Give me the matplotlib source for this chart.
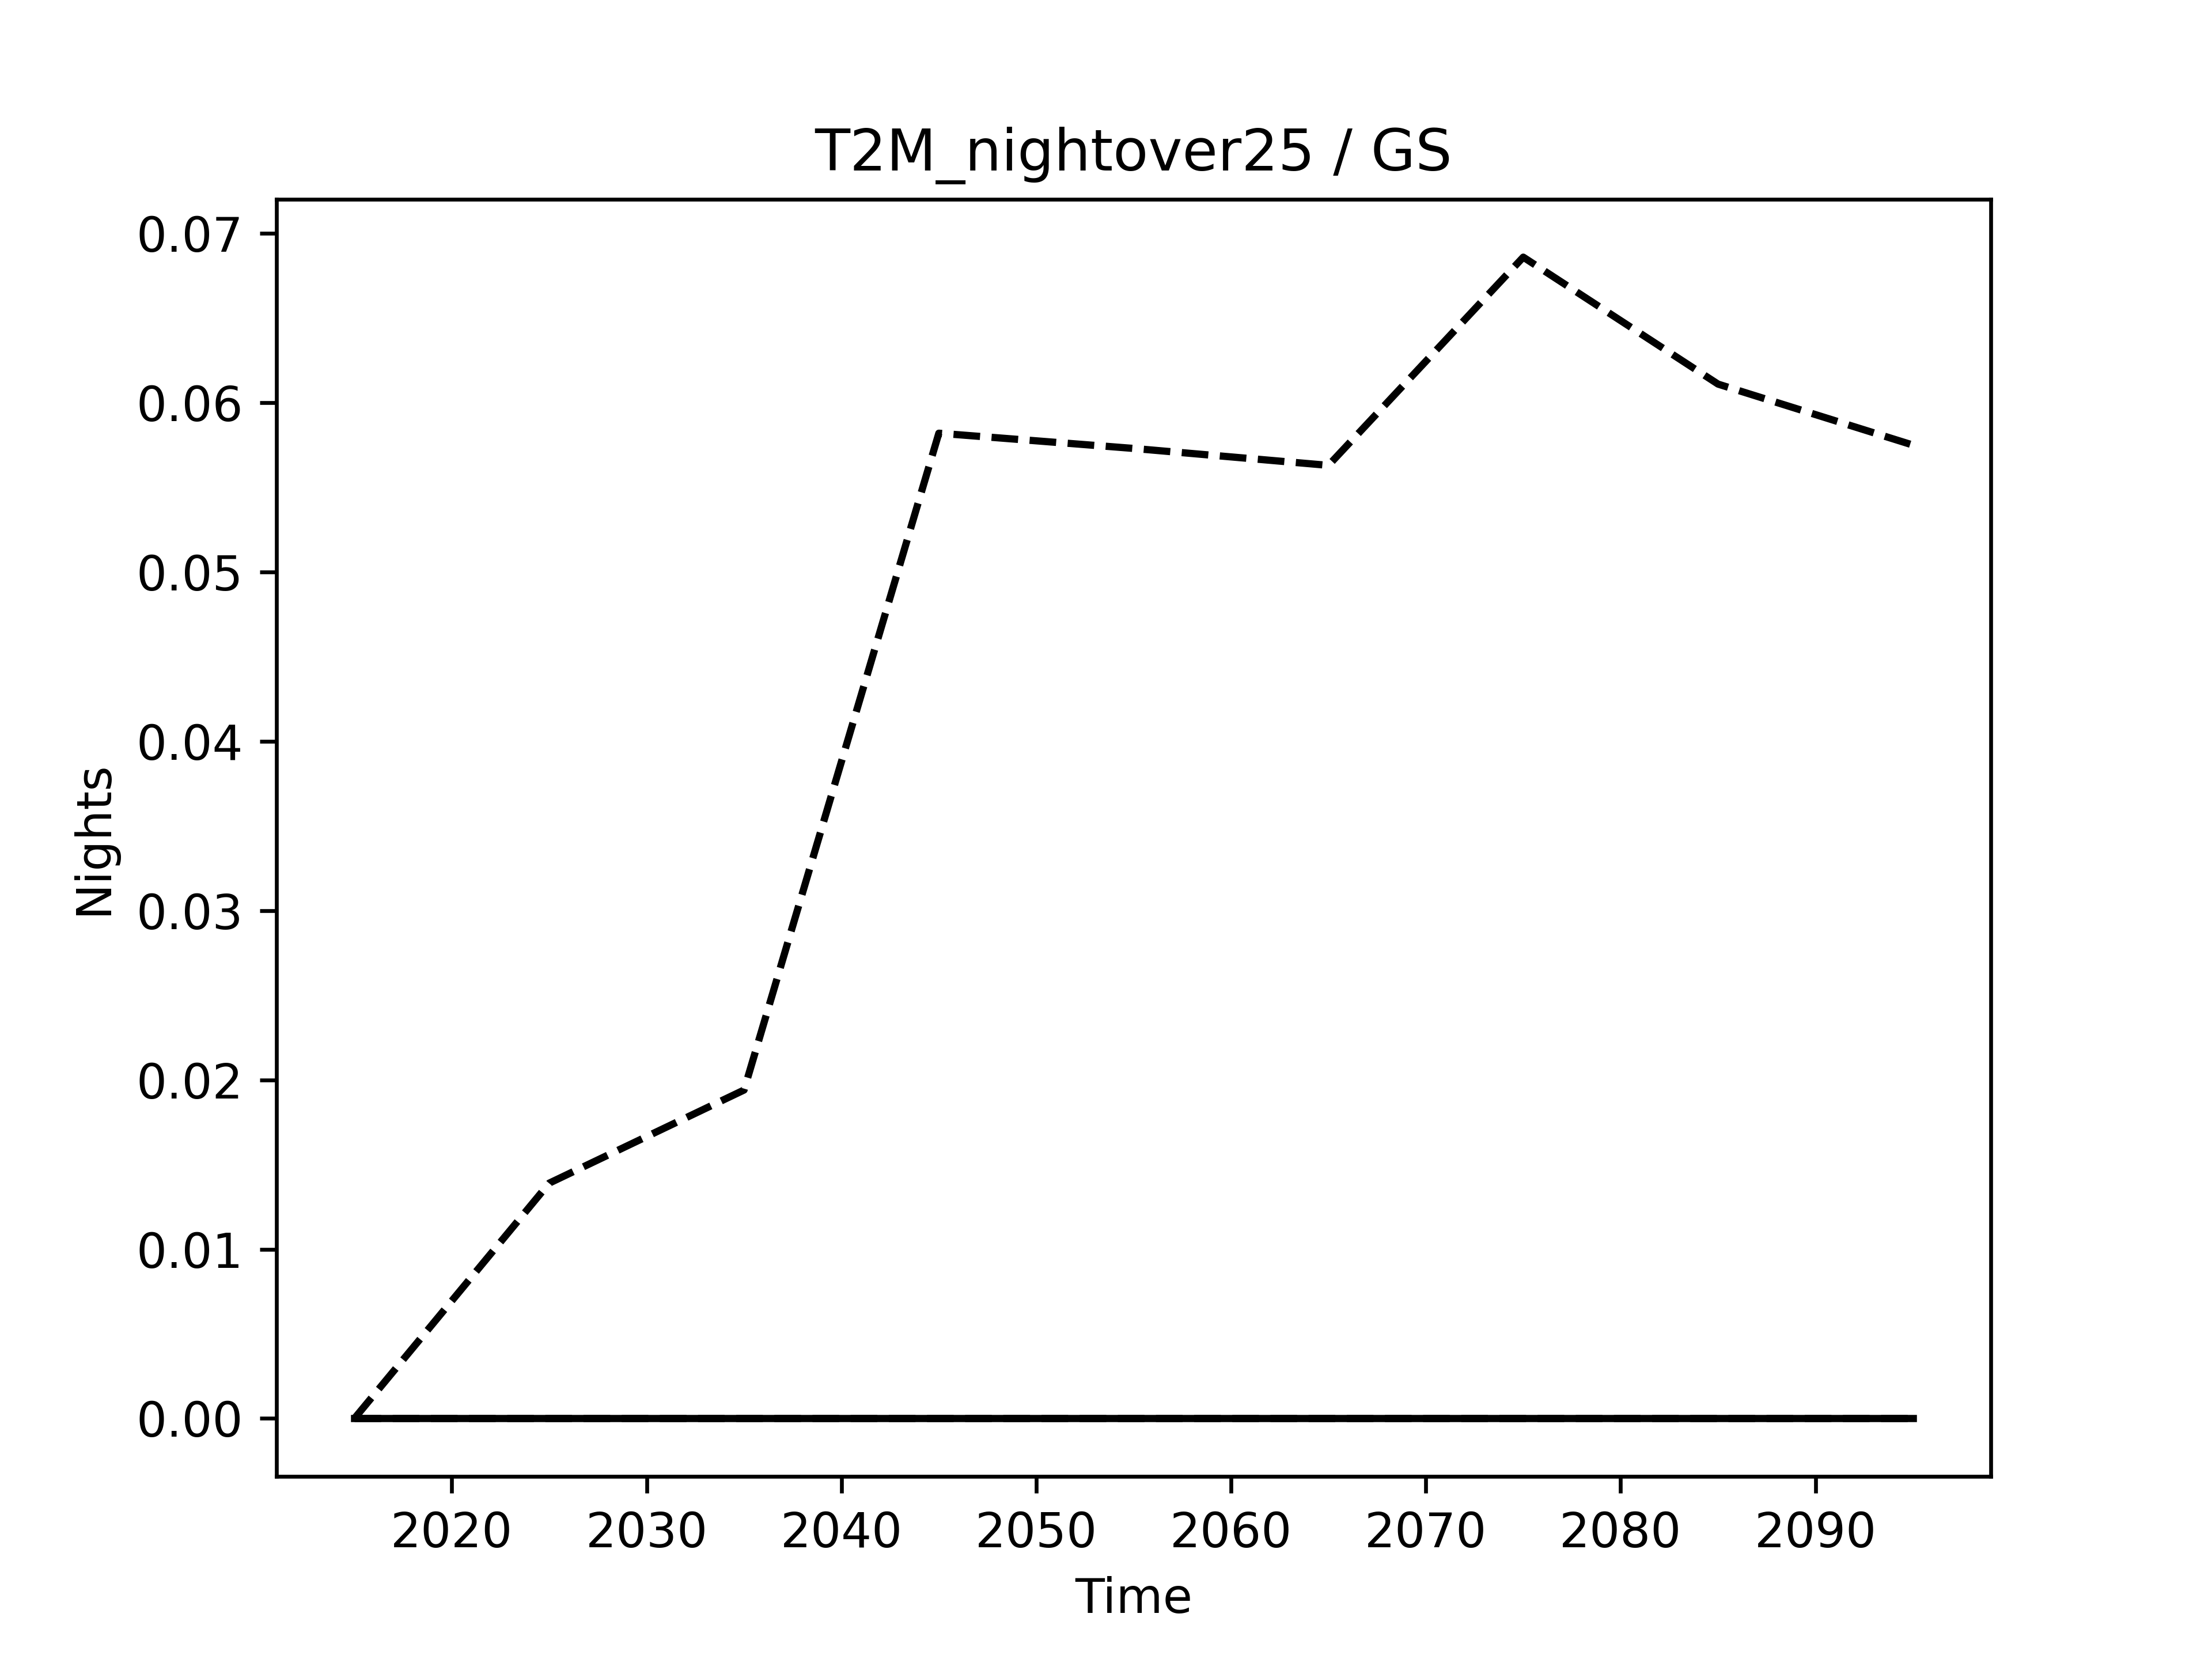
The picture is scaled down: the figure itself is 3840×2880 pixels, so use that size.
import matplotlib
matplotlib.use("Agg")
import matplotlib.pyplot as plt

years = [2015, 2025, 2035, 2045, 2055, 2065, 2075, 2085, 2095]
scenario_high = [0.0, 0.0139, 0.0194, 0.0582, 0.0573, 0.0563, 0.0686, 0.0611, 0.0575]
scenario_low = [0.0, 0.0, 0.0, 0.0, 0.0, 0.0, 0.0, 0.0, 0.0]
baseline = [0.0, 0.0, 0.0, 0.0, 0.0, 0.0, 0.0, 0.0, 0.0]

fig, ax = plt.subplots(figsize=(6.4, 4.8), dpi=600)
ax.plot(years, scenario_high, color="black", linestyle="--")
ax.plot(years, scenario_low, color="black", linestyle="--")
ax.plot(years, baseline, color="black", linestyle="-")
ax.set_title("T2M_nightover25 / GS")
ax.set_xlabel("Time")
ax.set_ylabel("Nights")
fig.savefig("out.png", dpi=600)
